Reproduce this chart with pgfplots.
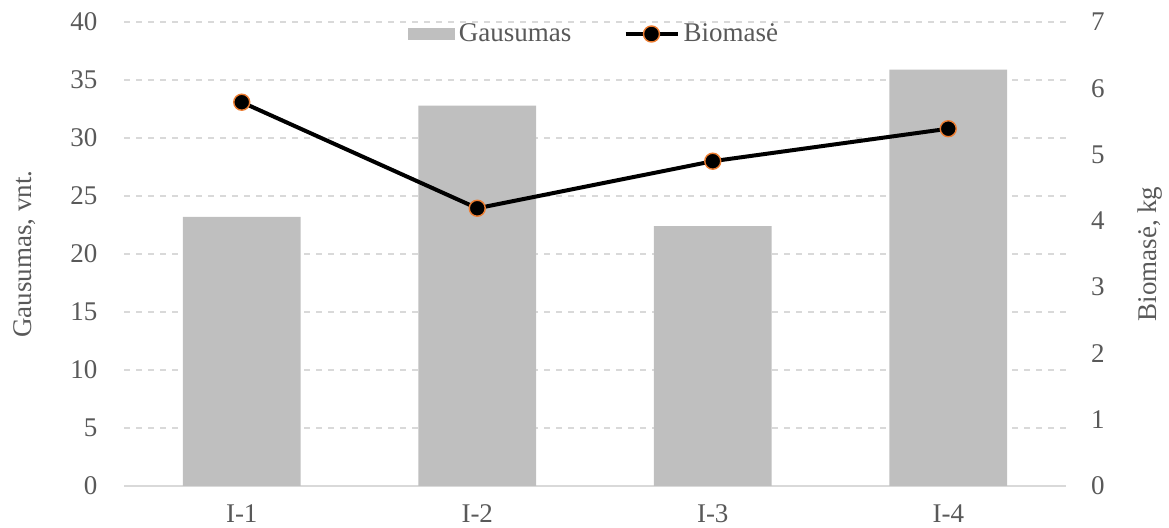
\documentclass[border=0pt]{standalone}
\usepackage{pgfplots}
\pgfplotsset{compat=1.18}
\usepackage{fontspec}
\setmainfont{Liberation Serif}
\definecolor{txt}{HTML}{595959}
\definecolor{barc}{HTML}{BFBFBF}
\definecolor{gridc}{HTML}{D9D9D9}
\definecolor{mk}{HTML}{ED7D31}
\begin{document}
\begin{tikzpicture}[font=\fontsize{13.5}{15}\selectfont]
\pgfplotsset{
  base/.style={
    width=471pt, height=232pt, scale only axis,
    xmin=-0.5, xmax=3.5,
    every tick label/.append style={text=txt, font=\fontsize{13.5}{15}\selectfont},
    /pgf/number format/assume math mode=true,
  }
}
\begin{axis}[base, name=ax,
  ymin=0, ymax=40, ytick={0,5,...,40},
  axis x line*=bottom, axis y line*=left,
  x axis line style={gridc, line width=0.8pt, -},
  y axis line style={draw=none},
  ytick style={draw=none},
  yticklabel style={xshift=-5.5pt},
  xtick={0,1,2,3}, xticklabels={I-1,I-2,I-3,I-4},
  xtick style={draw=none},
  xticklabel style={yshift=-1.5pt},
  minor xtick={-0.5,0.5,1.5,2.5,3.5},
  minor x tick style={gridc, line width=0.8pt},
  tick align=outside, minor tick length=4pt,
  ymajorgrids, grid style={gridc, dashed, line width=0.6pt},
  ylabel={Gausumas, vnt.},
  ylabel style={text=txt, at={(axis description cs:0,0.5)}, anchor=center, yshift=49.5pt, font=\fontsize{13.5}{15}\selectfont},
  legend style={at={(axis description cs:0.5,1)}, anchor=center, yshift=-6pt,
    draw=none, fill=none, inner sep=0pt,
    legend columns=2, text=txt, font=\fontsize{13.5}{15}\selectfont,
    /tikz/every even column/.append style={column sep=24pt}},
  legend image code/.code={\draw[#1, draw=none] (0pt,-3.2pt) rectangle (23.5pt,3.2pt);},
]
\addplot[ybar, bar width=0.5, fill=barc, draw=none] coordinates {(0,23.2) (1,32.8) (2,22.4) (3,35.9)};
\addlegendentry{Gausumas}
\addlegendimage{legend image code/.code={
  \draw[black, line width=2.2pt] (0pt,0pt) -- (26pt,0pt);
  \draw[mk, fill=black, line width=0.7pt] (13pt,0pt) circle (4pt);}}
\addlegendentry{Biomasė}
\end{axis}
\begin{axis}[base,
  ymin=0, ymax=7, ytick={0,...,7},
  axis x line=none, axis y line*=right,
  y axis line style={draw=none}, ytick style={draw=none},
  yticklabel style={xshift=9pt},
  ylabel={Biomasė, kg},
  ylabel style={text=txt, at={(axis description cs:1,0.5)}, anchor=center, yshift=-42pt, font=\fontsize{13.5}{15}\selectfont},
]
\addplot[black, line width=2pt, mark=*, mark size=4pt,
  mark options={draw=mk, fill=black, line width=0.7pt}]
  coordinates {(0,5.79) (1,4.19) (2,4.90) (3,5.39)};
\end{axis}
\pgfresetboundingbox
\useasboundingbox ([xshift=-62pt,yshift=-21pt]ax.south west) rectangle ([xshift=51.5pt,yshift=11pt]ax.north east);
\end{tikzpicture}
\end{document}
